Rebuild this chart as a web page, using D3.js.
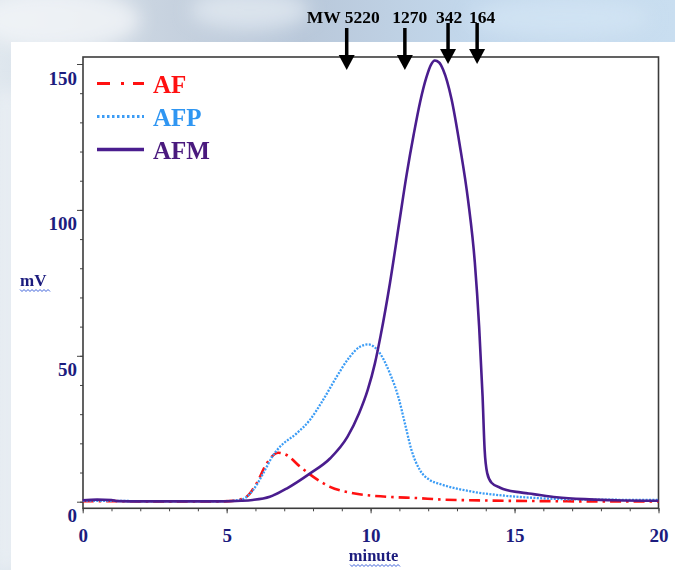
<!DOCTYPE html>
<html>
<head>
<meta charset="utf-8">
<script src="https://cdn.jsdelivr.net/npm/d3@7"></script>
<style>
  body { margin: 0; background: #fff; }
  svg { display: block; }
</style>
</head>
<body>
<div id="chart"></div>
<script>
// Series (minute, mV)
const afTime = [0, 1, 2, 3, 4, 4.8, 5.3, 5.69, 6.04, 6.39, 6.79, 7.08, 7.55, 8.0, 8.59, 9.4, 10.56, 11.71, 12.35, 14, 16, 18, 20];
const afValue = [0.2, 0.2, 0.1, 0.1, 0.1, 0.1, 0.4, 1.7, 6.3, 13.1, 16.8, 16, 12, 8.6, 5.1, 2.9, 1.7, 1.2, 0.8, 0.4, 0.2, 0.1, 0.1];

const afpTime = [0, 1, 2, 3, 4, 4.8, 5.46, 5.92, 6.27, 6.62, 6.85, 7.43, 7.89, 8.35, 8.82, 9.28, 9.63, 9.92, 10.32, 10.67, 10.96, 11.19, 11.42, 11.71, 12.06, 12.4, 13.56, 14.72, 15.88, 17.03, 20];
const afpValue = [0.3, 0.3, 0.2, 0.2, 0.2, 0.2, 0.6, 4, 9.7, 16, 18.8, 23.4, 28, 34.9, 42.8, 49.7, 53.1, 53.9, 50.9, 44, 36, 26.9, 17.7, 10.9, 7.4, 6.1, 3.4, 2.0, 1.2, 0.8, 0.6];

const afmTime = [0, 0.5, 1.0, 1.2, 2, 3, 4, 4.8, 5.5, 5.9, 6.5, 7.1, 7.9, 8.6, 9.2, 9.6, 9.9, 10.15, 10.35, 10.67, 11.0, 11.25, 11.5, 11.72, 11.94, 12.1, 12.23, 12.38, 12.52, 12.81, 13.1, 13.39, 13.62, 13.77, 13.89, 13.96, 14.05, 14.2, 14.5, 14.72, 15.2, 15.65, 16.46, 17.6, 18.5, 20];
const afmValue = [0.5, 0.7, 0.6, 0.2, 0.1, 0.1, 0.1, 0.1, 0.3, 0.6, 1.7, 4.6, 9.7, 14.9, 22.3, 30.3, 38.3, 47.4, 57, 74.8, 96, 112, 126, 137, 145.5, 149.8, 151.2, 150.5, 148, 138, 122, 103, 82, 60, 36, 18, 9.8, 6.5, 4.8, 4.0, 3.2, 2.6, 1.5, 0.8, 0.5, 0.3];

// Molecular weight standards (retention minute)
const mwTime = [9.17, 11.19, 12.69, 13.7];
const mwLabel = ["MW 5220", "1270", "342", "164"];

const seriesNames = ["AF", "AFP", "AFM"];
const xTicks = [0, 5, 10, 15, 20];
const yTicks = [0, 50, 100, 150];

const W = 675, H = 570;
const plot = { left: 83, right: 658.5, top: 57, bottom: 508.3 };
const navy = "#1c1c7e";
const serif = "'Liberation Serif', 'Times New Roman', serif";

const svg = d3.select("#chart").append("svg")
    .attr("width", W)
    .attr("height", H);

// Background: pale blue picture behind a white panel
const defs = svg.append("defs");
const grad = defs.append("linearGradient").attr("id", "bg").attr("x1", 0).attr("x2", 1);
[["0%", "#dfe7ee"], ["25%", "#c7d2df"], ["45%", "#b9c8da"], ["70%", "#c3d8ec"], ["100%", "#c9def0"]]
    .forEach(s => grad.append("stop").attr("offset", s[0]).attr("stop-color", s[1]));
defs.append("filter").attr("id", "blur").append("feGaussianBlur").attr("stdDeviation", 9);

svg.append("rect").attr("width", W).attr("height", H).attr("fill", "url(#bg)");
const glow = svg.append("g").attr("filter", "url(#blur)");
glow.append("ellipse").attr("cx", 60).attr("cy", 20).attr("rx", 80).attr("ry", 30).attr("fill", "#f2f5f8").attr("opacity", 0.8);
glow.append("ellipse").attr("cx", 250).attr("cy", 10).attr("rx", 60).attr("ry", 20).attr("fill", "#e6edf4").attr("opacity", 0.7);
glow.append("ellipse").attr("cx", 560).attr("cy", 18).attr("rx", 90).attr("ry", 20).attr("fill", "#d4e6f5").attr("opacity", 0.7);
glow.append("rect").attr("x", 0).attr("y", 90).attr("width", 14).attr("height", 480).attr("fill", "#eef2f6");

svg.append("rect")
    .attr("x", 11).attr("y", 42)
    .attr("width", W - 11).attr("height", H - 42)
    .attr("fill", "#ffffff");

// Scales
const x = d3.scaleLinear().domain([0, 20]).range([82.7, 658.5]);
const y = d3.scaleLinear().domain([0, 150]).range([501.7, 64]);

// Y axis: minor every 10, labels at 50s
svg.append("g")
    .attr("transform", `translate(${plot.left},0)`)
    .call(d3.axisLeft(y).tickValues(d3.range(0, 151, 10)).tickSize(3).tickFormat(""))
    .call(g => g.select(".domain").remove())
    .call(g => g.selectAll("line").attr("stroke", "#444"));

svg.append("g")
    .attr("transform", `translate(${plot.left},0)`)
    .call(d3.axisLeft(y).tickValues(yTicks).tickSize(6).tickPadding(0))
    .call(g => g.select(".domain").remove())
    .call(g => g.selectAll("line").attr("stroke", "#444"))
    .call(g => g.selectAll("text")
        .attr("dy", null)
        .attr("y", 20)
        .attr("fill", navy)
        .style("font", `bold 19px ${serif}`));

// X axis: minor every minute
svg.append("g")
    .attr("transform", `translate(0,${plot.bottom})`)
    .call(d3.axisBottom(x).tickValues(d3.range(0, 21, 1)).tickSize(3).tickFormat(""))
    .call(g => g.select(".domain").remove())
    .call(g => g.selectAll("line").attr("stroke", "#444"));

svg.append("g")
    .attr("transform", `translate(0,${plot.bottom})`)
    .call(d3.axisBottom(x).tickValues(xTicks).tickSize(5))
    .call(g => g.select(".domain").remove())
    .call(g => g.selectAll("line").attr("stroke", "#444"))
    .call(g => g.selectAll("text")
        .attr("dy", null)
        .attr("y", 34)
        .attr("fill", navy)
        .style("font", `bold 19px ${serif}`));

// Frame
svg.append("rect")
    .attr("x", plot.left).attr("y", plot.top)
    .attr("width", plot.right - plot.left)
    .attr("height", plot.bottom - plot.top)
    .attr("fill", "none")
    .attr("stroke", "#3c3c3c")
    .attr("stroke-width", 1.6);

// Axis titles with the wavy spell-check underline
function wavy(x0, x1, yy) {
    const pts = [];
    for (let i = 0; x0 + i * 2 <= x1; i++) pts.push([x0 + i * 2, yy + (i % 2 ? 1.5 : -0.5)]);
    svg.append("path")
        .attr("d", d3.line()(pts))
        .attr("fill", "none")
        .attr("stroke", "#3a5fd8")
        .attr("stroke-width", 1);
}

svg.append("text")
    .attr("x", 20).attr("y", 286)
    .attr("fill", navy)
    .style("font", `bold 17px ${serif}`)
    .text("mV");
wavy(20, 50, 290);

svg.append("text")
    .attr("x", x(10) + 3).attr("y", 561)
    .attr("text-anchor", "middle")
    .attr("fill", navy)
    .style("font", `bold 16.5px ${serif}`)
    .text("minute");
wavy(350, 401, 565);

// Curves
const line = d3.line()
    .x(d => x(d[0]))
    .y(d => y(d[1]))
    .curve(d3.curveMonotoneX);

const styles = {
    AF: { color: "#ff1111", width: 2.6, dash: "11,5,2.5,5" },
    AFP: { color: "#3b9cf5", width: 2.3, dash: "2,1.4" },
    AFM: { color: "#4a1d8e", width: 2.6, dash: null }
};
const seriesData = {
    AF: d3.zip(afTime, afValue),
    AFP: d3.zip(afpTime, afpValue),
    AFM: d3.zip(afmTime, afmValue)
};

seriesNames.forEach(name => {
    const s = styles[name];
    svg.append("path")
        .datum(seriesData[name])
        .attr("d", line)
        .attr("fill", "none")
        .attr("stroke", s.color)
        .attr("stroke-width", s.width)
        .attr("stroke-dasharray", s.dash);
});

// Legend
const legendColors = { AF: "#ff1111", AFP: "#2f96f2", AFM: "#4a1a7e" };
seriesNames.forEach((name, i) => {
    const s = styles[name];
    const ly = 83.5 + i * 33;
    svg.append("line")
        .attr("x1", 97).attr("x2", 144)
        .attr("y1", ly).attr("y2", ly)
        .attr("stroke", s.color)
        .attr("stroke-width", name === "AFM" ? 3.5 : 3)
        .attr("stroke-dasharray", name === "AF" ? "13,11,3,9" : name === "AFP" ? "2.5,2.5" : null);
    svg.append("text")
        .attr("x", 153).attr("y", ly + 9)
        .attr("fill", legendColors[name])
        .style("font", `bold 25px ${serif}`)
        .text(name);
});

// MW marker arrows
const labelShift = [33, 5, 1, 5];
const labelAnchor = ["end", "middle", "middle", "middle"];
mwTime.forEach((t, i) => {
    const ax = x(t);
    const top = i < 2 ? 28 : 23;
    const tip = i < 2 ? 70 : 64;
    svg.append("line")
        .attr("x1", ax).attr("x2", ax)
        .attr("y1", top).attr("y2", tip - 12)
        .attr("stroke", "#000")
        .attr("stroke-width", 3.5);
    svg.append("path")
        .attr("d", `M${ax - 8},${tip - 15}L${ax + 8},${tip - 15}L${ax},${tip}Z`)
        .attr("fill", "#000");
    svg.append("text")
        .attr("x", ax + labelShift[i]).attr("y", 23)
        .attr("text-anchor", labelAnchor[i])
        .attr("fill", "#000")
        .style("font", `bold 17.5px ${serif}`)
        .text(mwLabel[i]);
});
</script>
</body>
</html>
